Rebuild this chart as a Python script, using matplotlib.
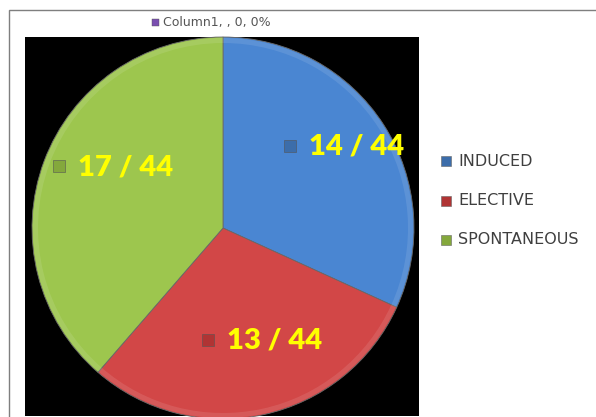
import numpy as np
import matplotlib.pyplot as plt
from matplotlib.patches import Rectangle

# delivery type counts (out of 44)
categories = ['INDUCED', 'ELECTIVE', 'SPONTANEOUS']
counts = [14, 13, 17]
total = 44
colors = ['#4A86D2', '#D24747', '#9DC64E']
marker_colors = ['#3C6DAA', '#B03434', '#84A83C']

W, H = 596, 417
fig = plt.figure(figsize=(W / 100, H / 100), dpi=100)


def px_box(x0, y0, x1, y1):
    # image pixel box -> figure fraction [left, bottom, width, height]
    return [x0 / W, 1 - y1 / H, (x1 - x0) / W, (y1 - y0) / H]


# outer chart border
fig.patches.append(Rectangle((9 / W, -0.05), 1.0, 1 - 10 / H + 0.05,
                             transform=fig.transFigure, fill=False,
                             edgecolor='#7f7f7f', linewidth=1.0))

# plot area, data units = pixels
x0, y0, x1, y1 = 25, 37, 419, 416
ax = fig.add_axes(px_box(x0, y0, x1, y1))
ax.set_facecolor('black')
cx, cy, r = 223, H - 228, 191

wedges, _ = ax.pie(counts, colors=colors, startangle=90, counterclock=False,
                   center=(cx, cy), radius=r, frame=True,
                   wedgeprops=dict(linewidth=0.6, edgecolor='#6a6a6a'))
# soft light rim on each slice
for w in wedges:
    rim = ax.pie([1], colors=['white'], startangle=w.theta1, center=(cx, cy),
                 radius=r - 1, frame=True,
                 wedgeprops=dict(width=5, alpha=0.10, linewidth=0))[0][0]
    rim.set_theta2(w.theta2)

ax.set_xlim(x0, x1)
ax.set_ylim(H - y1, H - y0)
ax.set_aspect('auto')
ax.set_xticks([])
ax.set_yticks([])
for s in ax.spines.values():
    s.set_visible(False)

# data labels: distance along slice middle and angular shift
label_pos = [(0.82, -1.5), (0.65, 12.5), (0.60, -11.7)]
for w, n, mc, (d, shift) in zip(wedges, counts, marker_colors, label_pos):
    mid = np.radians((w.theta1 + w.theta2) / 2 + shift)
    lx = cx + d * r * np.cos(mid)
    ly = cy + d * r * np.sin(mid)
    ax.text(lx, ly, f'{n} / {total}', color='#FFFF00', fontsize=21,
            fontweight='heavy', family='Lato', ha='center', va='center')
    ax.plot(lx - 67, ly + 1, marker='s', markersize=8, color=mc,
            markeredgecolor='#555555', markeredgewidth=0.4)

# legend on the right
for i, (cat, c) in enumerate(zip(categories, marker_colors)):
    y = 161 + i * 39.5
    fig.patches.append(Rectangle((441 / W, 1 - (y + 5) / H), 10 / W, 10 / H,
                                 transform=fig.transFigure, facecolor=c,
                                 edgecolor='#666666', linewidth=0.4))
    fig.text(458 / W, 1 - y / H, cat, fontsize=11.5, color='#3f3f3f',
             ha='left', va='center')

# empty series entry above the plot
fig.patches.append(Rectangle((152 / W, 1 - 26 / H), 7 / W, 7 / H,
                             transform=fig.transFigure, facecolor='#7A4FB0',
                             edgecolor='#555555', linewidth=0.3))
fig.text(163 / W, 1 - 22.5 / H, 'Column1, , 0, 0%', fontsize=9, color='#555555',
         ha='left', va='center')

fig.savefig('out.png', dpi=100, facecolor='white')
